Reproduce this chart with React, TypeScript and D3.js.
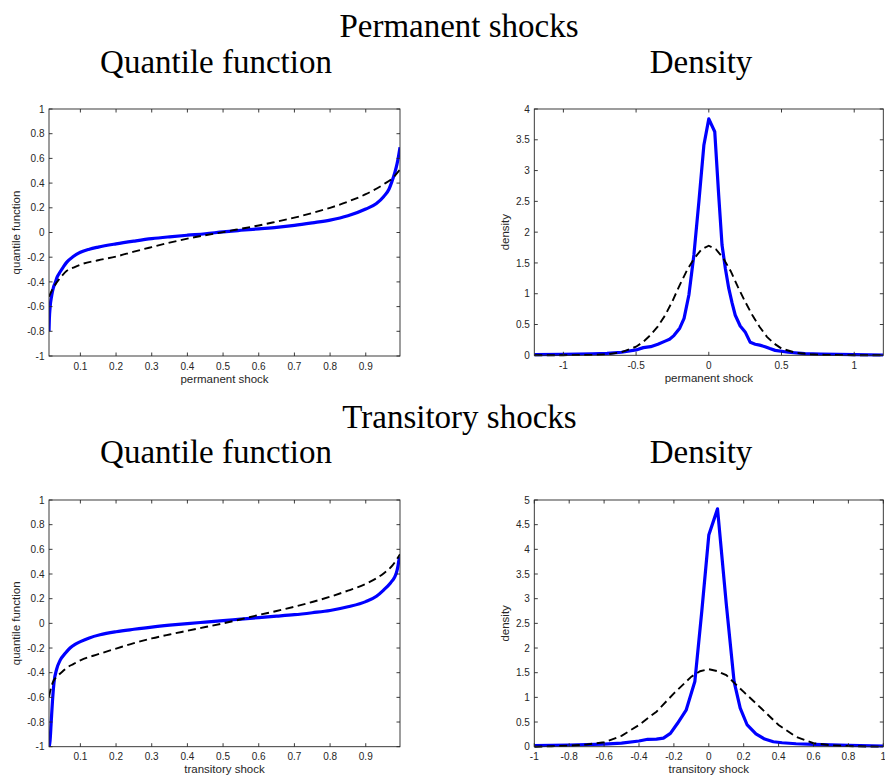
import React from "react";
import * as d3 from "d3";

// ---------- data ----------
const qTicksX = [0.1, 0.2, 0.3, 0.4, 0.5, 0.6, 0.7, 0.8, 0.9];
const qTicksY = [-1, -0.8, -0.6, -0.4, -0.2, 0, 0.2, 0.4, 0.6, 0.8, 1];
const permDensTicksX = [-1, -0.5, 0, 0.5, 1];
const permDensTicksY = [0, 0.5, 1, 1.5, 2, 2.5, 3, 3.5, 4];
const tranDensTicksX = [-1, -0.8, -0.6, -0.4, -0.2, 0, 0.2, 0.4, 0.6, 0.8, 1];
const tranDensTicksY = [0, 0.5, 1, 1.5, 2, 2.5, 3, 3.5, 4, 4.5, 5];

// Permanent shocks: quantile function (estimated = blue, normal = dashed)
const permQuantEst: [number, number][] = [
  [0.012, -0.8], [0.013, -0.7], [0.015, -0.61], [0.0196, -0.51], [0.024, -0.45],
  [0.029, -0.41], [0.035, -0.36], [0.043, -0.32], [0.052, -0.28], [0.062, -0.24],
  [0.08, -0.195], [0.1, -0.16], [0.125, -0.135], [0.15, -0.118], [0.2, -0.092],
  [0.25, -0.07], [0.3, -0.05], [0.35, -0.035], [0.4, -0.022], [0.45, -0.01],
  [0.5, 0.005], [0.55, 0.018], [0.6, 0.03], [0.65, 0.042], [0.7, 0.058],
  [0.75, 0.078], [0.8, 0.1], [0.85, 0.135], [0.9, 0.19], [0.93, 0.235],
  [0.95, 0.29], [0.965, 0.35], [0.973, 0.41], [0.982, 0.49], [0.988, 0.56],
  [0.992, 0.62], [0.996, 0.69],
];
const permQuantNorm: [number, number][] = [
  [0.012, -0.52], [0.02, -0.47], [0.03, -0.42], [0.04, -0.38], [0.05, -0.345],
  [0.062, -0.31], [0.08, -0.285], [0.1, -0.26], [0.15, -0.225], [0.2, -0.195],
  [0.25, -0.155], [0.3, -0.118], [0.35, -0.082], [0.4, -0.05], [0.45, -0.022],
  [0.5, 0.003], [0.55, 0.03], [0.6, 0.057], [0.65, 0.088], [0.7, 0.12],
  [0.75, 0.158], [0.8, 0.2], [0.85, 0.25], [0.9, 0.31], [0.95, 0.39],
  [0.975, 0.44], [0.996, 0.51],
];

// Permanent shocks: density
const permDensEst: [number, number][] = [
  [-1.2, 0.01], [-1.0, 0.016], [-0.8, 0.025], [-0.7, 0.03], [-0.6, 0.05],
  [-0.5, 0.087], [-0.45, 0.125], [-0.4, 0.14], [-0.35, 0.18], [-0.3, 0.23],
  [-0.27, 0.26], [-0.24, 0.32], [-0.2, 0.44], [-0.17, 0.6], [-0.137, 0.98],
  [-0.1025, 1.63], [-0.068, 2.5], [-0.034, 3.41], [0.0, 3.84], [0.041, 3.63],
  [0.068, 2.6], [0.091, 1.79], [0.114, 1.41], [0.137, 1.09], [0.16, 0.85],
  [0.182, 0.65], [0.216, 0.476], [0.25, 0.38], [0.285, 0.21], [0.319, 0.18],
  [0.35, 0.165], [0.387, 0.14], [0.42, 0.11], [0.456, 0.08], [0.547, 0.05],
  [0.66, 0.027], [0.77, 0.02], [1.0, 0.01], [1.2, 0.005],
];
const permDensNorm: [number, number][] = [
  [-1.2, 0.0], [-1.0, 0.002], [-0.8, 0.007], [-0.7, 0.016], [-0.6, 0.05],
  [-0.5, 0.14], [-0.45, 0.22], [-0.4, 0.33], [-0.35, 0.47], [-0.3, 0.65],
  [-0.25, 0.88], [-0.2, 1.14], [-0.15, 1.38], [-0.1, 1.575], [-0.05, 1.72],
  [0.0, 1.78], [0.05, 1.72], [0.1, 1.575], [0.15, 1.37], [0.2, 1.11],
  [0.25, 0.87], [0.3, 0.65], [0.35, 0.46], [0.4, 0.3], [0.45, 0.19],
  [0.5, 0.11], [0.6, 0.04], [0.7, 0.016], [0.8, 0.006], [1.0, 0.001], [1.2, 0.0],
];

// Transitory shocks: quantile function
const tranQuantEst: [number, number][] = [
  [0.0125, -1.0], [0.015, -0.95], [0.0178, -0.82], [0.0215, -0.64], [0.026, -0.48],
  [0.0336, -0.37], [0.043, -0.3], [0.057, -0.245], [0.071, -0.2], [0.085, -0.17],
  [0.1, -0.148], [0.125, -0.118], [0.155, -0.093], [0.2, -0.068], [0.25, -0.048],
  [0.3, -0.03], [0.35, -0.015], [0.4, -0.002], [0.45, 0.01], [0.5, 0.022],
  [0.55, 0.035], [0.6, 0.047], [0.65, 0.058], [0.7, 0.07], [0.75, 0.086],
  [0.8, 0.104], [0.85, 0.134], [0.9, 0.176], [0.93, 0.22], [0.95, 0.27],
  [0.97, 0.33], [0.98, 0.37], [0.986, 0.41], [0.99, 0.46], [0.993, 0.51], [0.996, 0.54],
];
const tranQuantNorm: [number, number][] = [
  [0.012, -0.595], [0.018, -0.52], [0.024, -0.47], [0.035, -0.43], [0.05, -0.39],
  [0.062, -0.36], [0.08, -0.33], [0.1, -0.3], [0.15, -0.25], [0.2, -0.205],
  [0.25, -0.16], [0.3, -0.122], [0.35, -0.09], [0.4, -0.06], [0.45, -0.03],
  [0.5, 0.0], [0.55, 0.033], [0.6, 0.068], [0.65, 0.1], [0.7, 0.135],
  [0.75, 0.173], [0.8, 0.216], [0.85, 0.265], [0.9, 0.32], [0.95, 0.405],
  [0.975, 0.47], [0.996, 0.56],
];

// Transitory shocks: density
const tranDensEst: [number, number][] = [
  [-1.0, 0.02], [-0.8, 0.034], [-0.6, 0.054], [-0.5, 0.074], [-0.4, 0.115],
  [-0.35, 0.15], [-0.3, 0.155], [-0.26, 0.175], [-0.22, 0.27], [-0.18, 0.47],
  [-0.13, 0.74], [-0.08, 1.32], [-0.04, 2.75], [0.0, 4.29], [0.05, 4.82],
  [0.1, 2.9], [0.145, 1.32], [0.18, 0.78], [0.22, 0.44], [0.27, 0.26],
  [0.32, 0.155], [0.37, 0.1], [0.42, 0.08], [0.5, 0.06], [0.6, 0.047],
  [0.8, 0.027], [1.0, 0.014],
];
const tranDensNorm: [number, number][] = [
  [-1.0, 0.0], [-0.9, 0.01], [-0.8, 0.02], [-0.7, 0.045], [-0.6, 0.09],
  [-0.5, 0.22], [-0.4, 0.44], [-0.3, 0.71], [-0.2, 1.08], [-0.1, 1.42],
  [-0.05, 1.53], [0.0, 1.57], [0.05, 1.53], [0.1, 1.45], [0.2, 1.11],
  [0.3, 0.78], [0.4, 0.44], [0.5, 0.2], [0.6, 0.07], [0.7, 0.03],
  [0.8, 0.013], [0.9, 0.005], [1.0, 0.0],
];

// ---------- drawing ----------
const AX = "#262626";
const TICK_FONT = "'Liberation Sans', Arial, Helvetica, sans-serif";
const TITLE_FONT = "'Liberation Serif', 'Times New Roman', serif";

function fmt(v: number): string {
  const r = Math.round(v * 100) / 100;
  return r === 0 ? "0" : String(r);
}

type PanelProps = {
  id: string;
  left: number; right: number; top: number; bottom: number;
  xDomain: [number, number]; yDomain: [number, number];
  xTicks: number[]; yTicks: number[];
  est: [number, number][]; norm: [number, number][];
  xLabel: string; yLabel: string; yLabelX: number;
  smooth?: boolean;
};

function Panel(p: PanelProps) {
  const x = d3.scaleLinear().domain(p.xDomain).range([p.left, p.right]);
  const y = d3.scaleLinear().domain(p.yDomain).range([p.bottom, p.top]);
  const line = d3
    .line<[number, number]>()
    .x((d) => x(d[0]))
    .y((d) => y(d[1]))
    .curve(p.smooth ? d3.curveMonotoneX : d3.curveLinear);
  const tl = 3.5;
  const w = p.right - p.left;
  const h = p.bottom - p.top;
  return (
    <g>
      <defs>
        <clipPath id={p.id}>
          <rect x={p.left} y={p.top - 2} width={w} height={h + 4} />
        </clipPath>
      </defs>
      <rect x={p.left} y={p.top} width={w} height={h} fill="#fff" />
      <g clipPath={`url(#${p.id})`}>
        <path d={line(p.est) || ""} fill="none" stroke="#0000ff" strokeWidth={3.2} strokeLinejoin="round" />
        <path d={line(p.norm) || ""} fill="none" stroke="#000" strokeWidth={1.9} strokeDasharray="8,4.5" />
      </g>
      <rect x={p.left} y={p.top} width={w} height={h} fill="none" stroke={AX} strokeWidth={0.9} />
      {p.xTicks.map((t) => (
        <g key={"x" + t}>
          <line x1={x(t)} x2={x(t)} y1={p.bottom} y2={p.bottom - tl} stroke={AX} strokeWidth={0.9} />
          <line x1={x(t)} x2={x(t)} y1={p.top} y2={p.top + tl} stroke={AX} strokeWidth={0.9} />
          <text x={x(t)} y={p.bottom + 13.5} textAnchor="middle" fontFamily={TICK_FONT} fontSize={10} fill={AX}>
            {fmt(t)}
          </text>
        </g>
      ))}
      {p.yTicks.map((t) => (
        <g key={"y" + t}>
          <line x1={p.left} x2={p.left + tl} y1={y(t)} y2={y(t)} stroke={AX} strokeWidth={0.9} />
          <line x1={p.right} x2={p.right - tl} y1={y(t)} y2={y(t)} stroke={AX} strokeWidth={0.9} />
          <text x={p.left - 4.5} y={y(t) + 3.6} textAnchor="end" fontFamily={TICK_FONT} fontSize={10} fill={AX}>
            {fmt(t)}
          </text>
        </g>
      ))}
      <text x={(p.left + p.right) / 2} y={p.bottom + 26.5} textAnchor="middle" fontFamily={TICK_FONT} fontSize={11.5} fill={AX}>
        {p.xLabel}
      </text>
      <text
        transform={`translate(${p.yLabelX},${(p.top + p.bottom) / 2}) rotate(-90)`}
        textAnchor="middle" fontFamily={TICK_FONT} fontSize={11.5} fill={AX}
      >
        {p.yLabel}
      </text>
    </g>
  );
}

export default function App() {
  const L1 = 49, R1 = 400, L2 = 534.3, R2 = 883.3;
  const T1 = 109, B1 = 356, T2 = 500, B2 = 746.7;
  const qDom: [number, number] = [0.012, 0.996];
  return (
    <svg width={885} height={776} style={{ position: "absolute", left: 0, top: 0, background: "#fff" }}>
      <rect x={0} y={0} width={885} height={776} fill="#fff" />
      <g fontFamily={TITLE_FONT} fontSize={33} fill="#000">
        <text x={459} y={37} textAnchor="middle">Permanent shocks</text>
        <text x={216} y={73.3} textAnchor="middle">Quantile function</text>
        <text x={701} y={73.3} textAnchor="middle">Density</text>
        <text x={459.5} y={428} textAnchor="middle">Transitory shocks</text>
        <text x={216} y={463.3} textAnchor="middle">Quantile function</text>
        <text x={701} y={463.3} textAnchor="middle">Density</text>
      </g>
      <Panel id="c1" left={L1} right={R1} top={T1} bottom={B1} xDomain={qDom} yDomain={[-1, 1]}
        xTicks={qTicksX} yTicks={qTicksY} est={permQuantEst} norm={permQuantNorm}
        xLabel="permanent shock" yLabel="quantile function" yLabelX={19.5} smooth />
      <Panel id="c2" left={L2} right={R2} top={T1} bottom={B1 - 0.7} xDomain={[-1.2, 1.2]} yDomain={[0, 4]}
        xTicks={permDensTicksX} yTicks={permDensTicksY} est={permDensEst} norm={permDensNorm}
        xLabel="permanent shock" yLabel="density" yLabelX={509} />
      <Panel id="c3" left={L1} right={R1} top={T2} bottom={B2} xDomain={qDom} yDomain={[-1, 1]}
        xTicks={qTicksX} yTicks={qTicksY} est={tranQuantEst} norm={tranQuantNorm}
        xLabel="transitory shock" yLabel="quantile function" yLabelX={19.5} smooth />
      <Panel id="c4" left={L2} right={R2} top={T2} bottom={B2} xDomain={[-1, 1]} yDomain={[0, 5]}
        xTicks={tranDensTicksX} yTicks={tranDensTicksY} est={tranDensEst} norm={tranDensNorm}
        xLabel="transitory shock" yLabel="density" yLabelX={509} />
    </svg>
  );
}
